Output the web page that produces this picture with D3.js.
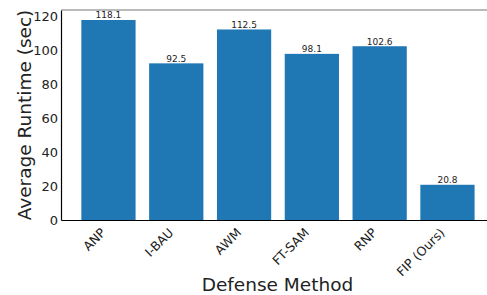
<!DOCTYPE html>
<html>
<head>
<meta charset="utf-8">
<script src="https://cdn.jsdelivr.net/npm/d3@7"></script>
<style>
  body { margin: 0; background: #fff; }
  text { font-family: "DejaVu Sans", sans-serif; }
</style>
</head>
<body>
<div id="chart"></div>
<script>
// bar chart of average runtime per defense method

let methods  = [ "ANP", "I-BAU", "AWM", "FT-SAM", "RNP", "FIP (Ours)" ] ;
let runtimes = [ 118.1, 92.5, 112.5, 98.1, 102.6, 20.8 ] ;
let yticks   = [ 0, 20, 40, 60, 80, 100, 120 ] ;

let svgwidth  = 487 ;
let svgheight = 295 ;

// plot area (the right side runs past the picture edge)
let plotLeft   = 61 ;
let plotTop    = 10 ;
let plotBottom = 220 ;

let svg = d3.select("#chart").append("svg")
				.attr("width", svgwidth)
				.attr("height", svgheight) ;

// x in bar-index units, matplotlib style limits
let x = d3.scaleLinear()
			.domain([ -0.7, 5.7 ])
			.range([ plotLeft, plotLeft + 6.4 * 67.8 ]) ;

let y = d3.scaleLinear()
			.domain([ 0, 124.0 ])
			.range([ plotBottom, plotTop ]) ;

let bw = 0.8 ;

// bars
svg.append("g").selectAll("rect")
	.data(runtimes)
	.join("rect")
		.attr("x", (d, i) => x(i - bw / 2))
		.attr("width", (d, i) => x(i + bw / 2) - x(i - bw / 2))
		.attr("y", d => y(d))
		.attr("height", d => y(0) - y(d))
		.attr("fill", "#1f77b4") ;

// value labels
svg.append("g").selectAll("text")
	.data(runtimes)
	.join("text")
		.attr("x", (d, i) => x(i))
		.attr("y", d => y(d) - 1.5)
		.attr("text-anchor", "middle")
		.attr("font-size", 9)
		.attr("fill", "#222")
		.text(d => d.toFixed(1)) ;

// y axis, no tick marks
let yAxis = svg.append("g")
				.attr("transform", "translate(" + plotLeft + ",0)")
				.call(d3.axisLeft(y).tickValues(yticks).tickSize(0).tickPadding(3)) ;
yAxis.select(".domain").attr("stroke", "#000").attr("stroke-width", 1.2) ;
yAxis.selectAll("text").attr("font-size", 13).attr("fill", "#222")
	.attr("font-family", "DejaVu Sans, sans-serif") ;

// x axis
let xAxis = svg.append("g")
				.attr("transform", "translate(0," + plotBottom + ")")
				.call(d3.axisBottom(x).tickValues(d3.range(methods.length))
						.tickFormat(i => methods[i]).tickSize(0).tickPadding(0)) ;
xAxis.select(".domain").attr("stroke", "#000").attr("stroke-width", 1.2) ;
xAxis.selectAll("text")
	.attr("font-size", 12.5)
	.attr("fill", "#222")
	.attr("font-family", "DejaVu Sans, sans-serif")
	.attr("text-anchor", "end")
	.attr("dy", null)
	.attr("y", null)
	.attr("transform", "translate(-5,11) rotate(-45)")
	.attr("dominant-baseline", "middle") ;

// top spine in gray
svg.append("line")
	.attr("x1", plotLeft).attr("x2", svgwidth)
	.attr("y1", plotTop).attr("y2", plotTop)
	.attr("stroke", "#777")
	.attr("stroke-width", 1.2) ;

// axis titles
svg.append("text")
	.attr("transform", "translate(31," + ((plotTop + plotBottom) / 2) + ") rotate(-90)")
	.attr("text-anchor", "middle")
	.attr("font-size", 18.5)
	.attr("fill", "#222")
	.text("Average Runtime (sec)") ;

svg.append("text")
	.attr("x", 277.5)
	.attr("y", 291)
	.attr("text-anchor", "middle")
	.attr("font-size", 18.5)
	.attr("fill", "#222")
	.text("Defense Method") ;
</script>
</body>
</html>
